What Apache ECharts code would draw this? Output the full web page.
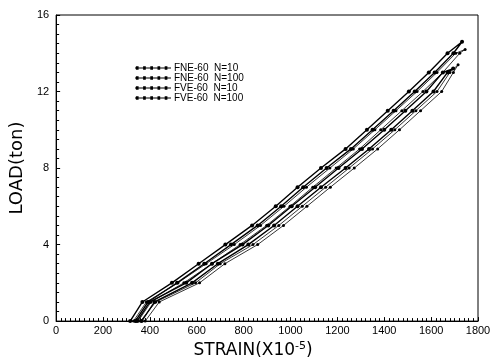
<!DOCTYPE html>
<html>
<head>
<meta charset="utf-8">
<script src="https://cdn.jsdelivr.net/npm/echarts@6/dist/echarts.min.js"></script>
<style>
  html, body { margin: 0; background: #fff; }
  #chart { width: 502px; height: 364px; }
</style>
</head>
<body>
<div id="chart"></div>
<script>
var chartDom = document.getElementById('chart');
var myChart = echarts.init(chartDom);

// load levels (ton) where strain was read
var loadSteps = [0, 1, 2, 3, 4, 5, 6, 7, 8, 9, 10, 11, 12, 13, 14];

var seriesNames = ['FNE-60  N=10', 'FNE-60  N=100', 'FVE-60  N=10', 'FVE-60  N=100'];

// strain (x10^-5) on loading / unloading, by load step
var fne10Up = [316, 368, 494, 608, 722, 836, 937, 1030, 1130, 1235, 1326, 1415, 1505, 1590, 1670];
var fne10Down = [338, 392, 516, 632, 746, 860, 960, 1054, 1154, 1258, 1350, 1440, 1530, 1615, 1695];
var fne100Up = [330, 385, 520, 640, 760, 872, 972, 1068, 1168, 1268, 1360, 1450, 1540, 1625, 1705];
var fne100Down = [350, 405, 545, 665, 785, 898, 998, 1095, 1195, 1295, 1385, 1475, 1565, 1650, 1722];
var fve10Up = [345, 400, 555, 665, 795, 905, 1005, 1105, 1205, 1305, 1400, 1490, 1580, 1650];
var fve10Down = [365, 420, 580, 690, 820, 930, 1030, 1130, 1235, 1335, 1430, 1520, 1610, 1670];
var fve100Up = [360, 425, 595, 700, 840, 950, 1050, 1150, 1250, 1350, 1445, 1535, 1625, 1680];
var fve100Down = [380, 440, 612, 720, 860, 970, 1070, 1170, 1272, 1372, 1465, 1555, 1645, 1695];

// peak points [strain, load]
var peakStrain = [1732, 1745, 1694, 1715];
var peakLoad = [14.6, 14.2, 13.2, 13.4];

function loop(up, down, k) {
  var pts = [];
  for (var i = 0; i < up.length; i++) pts.push([up[i], loadSteps[i]]);
  pts.push([peakStrain[k], peakLoad[k]]);
  for (var j = down.length - 1; j >= 0; j--) pts.push([down[j], loadSteps[j]]);
  return pts;
}

var loops = [
  loop(fne10Up, fne10Down, 0),
  loop(fne100Up, fne100Down, 1),
  loop(fve10Up, fve10Down, 2),
  loop(fve100Up, fve100Down, 3)
];

var widths = [1.4, 0.8, 1.4, 0.8];
var dotSizes = [4, 3, 4, 3];

var dotIcon = 'path://M0,3.4L40,3.4L40,4.6L0,4.6Z M1,2h3v4h-3z M9,2h3v4h-3z M17,2h3v4h-3z M25,2h3v4h-3z M33,2h3v4h-3z';

var series = loops.map(function (d, k) {
  return {
    name: seriesNames[k],
    type: 'line',
    data: d,
    symbol: 'circle',
    symbolSize: dotSizes[k],
    showSymbol: true,
    color: '#000',
    lineStyle: { color: '#000', width: widths[k] },
    itemStyle: { color: '#000' },
    animation: false
  };
});

var labelFont = { color: '#000', fontSize: 11, fontFamily: 'Liberation Sans' };

var option = {
  backgroundColor: '#fff',
  grid: {
    left: 56, right: 24, top: 15, bottom: 35,
    show: true, borderColor: '#000', borderWidth: 1
  },
  legend: {
    data: seriesNames.map(function (n) { return { name: n, icon: dotIcon }; }),
    orient: 'vertical',
    left: 130, top: 58,
    itemWidth: 36, itemHeight: 6, itemGap: 0,
    textStyle: { color: '#000', fontSize: 10, lineHeight: 9, fontFamily: 'Liberation Sans', padding: [0, 0, 0, -2] }
  },
  xAxis: {
    type: 'value',
    min: 0, max: 1800, interval: 200,
    name: 'STRAIN(X10{sup|-5})',
    nameLocation: 'middle',
    nameGap: 19,
    nameTextStyle: {
      color: '#000', fontSize: 17, fontFamily: 'DejaVu Sans', padding: [0, 28, 0, 0],
      rich: { sup: { fontSize: 11, verticalAlign: 'top', padding: [0, 0, 8, 0], fontFamily: 'DejaVu Sans' } }
    },
    axisLine: { lineStyle: { color: '#000' } },
    axisTick: { inside: true, length: 4, lineStyle: { color: '#000' } },
    minorTick: { show: true, splitNumber: 10, length: 3, lineStyle: { color: '#000' } },
    axisLabel: Object.assign({ margin: 4, formatter: function (v) { return String(v); } }, labelFont),
    splitLine: { show: false }
  },
  yAxis: {
    type: 'value',
    min: 0, max: 16, interval: 4,
    name: 'LOAD(ton)',
    nameLocation: 'middle',
    nameGap: 21,
    nameTextStyle: { color: '#000', fontSize: 18, fontFamily: 'DejaVu Sans' },
    axisLine: { show: true, lineStyle: { color: '#000' } },
    axisTick: { inside: true, length: 4, lineStyle: { color: '#000' } },
    minorTick: { show: true, splitNumber: 8, length: 3, lineStyle: { color: '#000' } },
    axisLabel: Object.assign({ margin: 7 }, labelFont),
    splitLine: { show: false }
  },
  series: series
};

myChart.setOption(option);
window.addEventListener('resize', myChart.resize);
</script>
</body>
</html>
